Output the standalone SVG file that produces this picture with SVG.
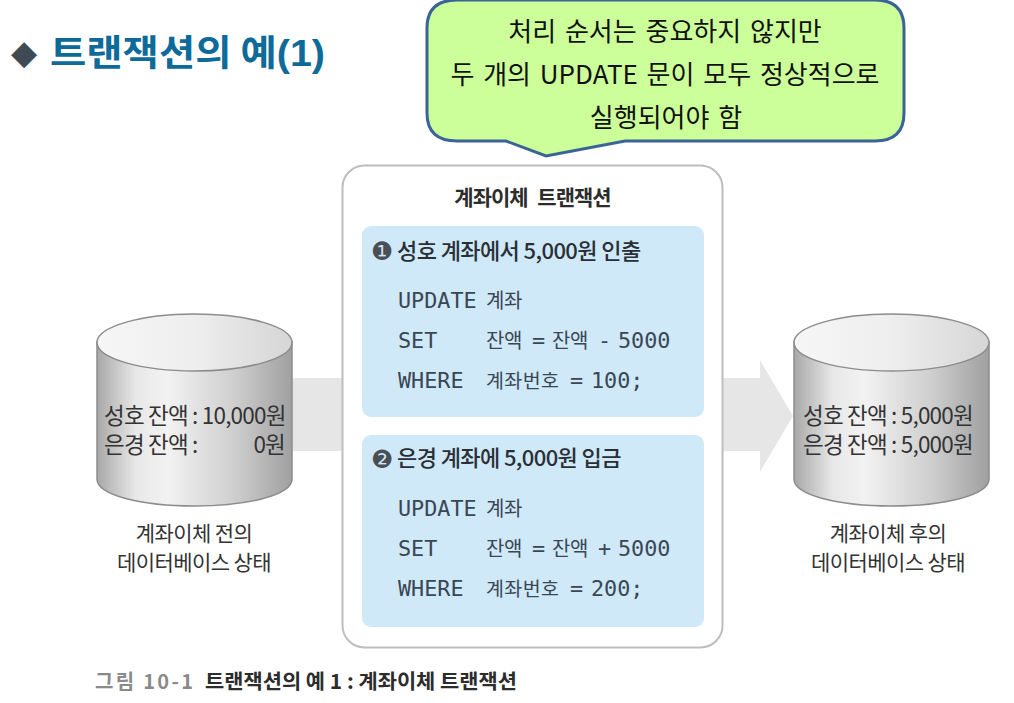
<svg xmlns="http://www.w3.org/2000/svg" width="1014" height="703" viewBox="0 0 1014 703">
<style>
text{font-family:"Noto Sans CJK KR","Liberation Sans",sans-serif;fill:#2c2c2c}
.call{font-size:26px;fill:#111;text-anchor:middle;word-spacing:3px}
.db{font-size:22.500px;letter-spacing:-.8px;fill:#333}
.lab{font-size:21px;letter-spacing:-.6px;text-anchor:middle;fill:#333}
.head{font-size:22px;font-weight:500;letter-spacing:-.6px;fill:#2a2f35}
.mono{font-family:"DejaVu Sans Mono","Liberation Mono",monospace;font-size:21.800px;fill:#3a4654}
.ko{font-size:20px;fill:#3a4654;letter-spacing:-.4px}
.ko4{font-size:20px;fill:#3a4654;letter-spacing:-.1px;font-size:19.500px;letter-spacing:.4px}
.num{font-family:"DejaVu Sans",sans-serif;font-size:25px;fill:#4a4f55}
.body{stroke:#8c8c8c;stroke-width:1.5;fill:url(#cyl)}
.top{stroke:#8c8c8c;stroke-width:1.5;fill:url(#lid)}
.blue{fill:#cfe9f9}
</style>
<defs>
<linearGradient id="cyl" x1="0" x2="1" y1="0" y2="0">
<stop offset="0" stop-color="#a8a8a8"/><stop offset=".2" stop-color="#e8e8e8"/><stop offset=".36" stop-color="#f2f2f2"/><stop offset=".7" stop-color="#cfcfcf"/><stop offset="1" stop-color="#a0a0a0"/>
</linearGradient>
<linearGradient id="lid" x1="0" x2="1" y1="0" y2="0">
<stop offset="0" stop-color="#f6f6f6"/><stop offset=".5" stop-color="#eeeeee"/><stop offset="1" stop-color="#d6d6d6"/>
</linearGradient>
</defs>
<rect width="1014" height="703" fill="#fff"/>
<g id="title">
<text x="11" y="64" font-size="34" style="font-family:'DejaVu Sans',sans-serif;fill:#3f4a55">◆</text>
<text x="50" y="66" font-size="36" font-weight="700" style="fill:#0e6a99" textLength="275" lengthAdjust="spacingAndGlyphs">트랜잭션의 예<tspan style="font-family:'Liberation Sans',sans-serif">(1)</tspan></text>
</g>
<g id="connectors">
<rect x="285" y="378" width="60" height="73" fill="#e6e6e6"/>
<path d="M720 378H760V360L793 416L760 472V451H720Z" fill="#e6e6e6"/>
</g>
<g id="db-before">
<path class="body" d="M97 342V479C97 495 141 506 194.500 506C248 506 292 495 292 479V342Z"/>
<ellipse class="top" cx="194.500" cy="342.500" rx="97.500" ry="28.500"/>
<text class="db" x="104" y="424">성호 잔액 : 10,000원</text>
<text class="db" x="104" y="453">은경 잔액 :</text>
<text class="db" x="285" y="453" text-anchor="end">0원</text>
<text class="lab" x="194" y="541">계좌이체 전의</text>
<text class="lab" x="194" y="570">데이터베이스 상태</text>
</g>
<g id="transaction">
<rect x="342.500" y="165.500" width="380" height="482" rx="22" fill="#fff" stroke="#bdbdbd" stroke-width="2"/>
<text x="532.500" y="205" text-anchor="middle" font-size="21" font-weight="700" letter-spacing="-1" word-spacing="6">계좌이체 트랜잭션</text>
</g>
<g id="step-1">
<rect class="blue" x="362" y="226" width="342" height="191" rx="9"/>
<text class="num" x="371" y="260">❶</text>
<text class="head" x="397" y="259">성호 계좌에서 5,000원 인출</text>
<text class="mono" x="398" y="308">UPDATE</text><text class="ko" x="486" y="308">계좌</text>
<text class="mono" x="398" y="348">SET</text><text class="ko" x="486" y="348">잔액</text><text class="mono" x="532" y="348">=</text><text class="ko" x="552" y="348">잔액</text><text class="mono" x="598" y="348">-</text><text class="mono" x="618" y="348">5000</text>
<text class="mono" x="398" y="388">WHERE</text><text class="ko4" x="486" y="388">계좌번호</text><text class="mono" x="570" y="388">=</text><text class="mono" x="591" y="388">100;</text>
</g>
<g id="step-2">
<rect class="blue" x="362" y="435" width="342" height="192" rx="9"/>
<text class="num" x="371" y="468">❷</text>
<text class="head" x="397" y="466">은경 계좌에 5,000원 입금</text>
<text class="mono" x="398" y="516">UPDATE</text><text class="ko" x="486" y="516">계좌</text>
<text class="mono" x="398" y="556">SET</text><text class="ko" x="486" y="556">잔액</text><text class="mono" x="532" y="556">=</text><text class="ko" x="552" y="556">잔액</text><text class="mono" x="598" y="556">+</text><text class="mono" x="618" y="556">5000</text>
<text class="mono" x="398" y="596">WHERE</text><text class="ko4" x="486" y="596">계좌번호</text><text class="mono" x="570" y="596">=</text><text class="mono" x="591" y="596">200;</text>
</g>
<g id="db-after">
<path class="body" d="M794 342V479C794 495 838 506 891.500 506C945 506 989 495 989 479V342Z"/>
<ellipse class="top" cx="891.500" cy="342.500" rx="97.500" ry="28.500"/>
<text class="db" x="803" y="424">성호 잔액 : 5,000원</text>
<text class="db" x="803" y="453">은경 잔액 : 5,000원</text>
<text class="lab" x="888" y="541">계좌이체 후의</text>
<text class="lab" x="888" y="570">데이터베이스 상태</text>
</g>
<g id="callout">
<path d="M457 0H875Q904 0 904 28V113Q904 141 875 141H625L546 156L506 141H457Q427 141 427 113V28Q427 0 457 0Z" fill="#ccff99" stroke="#3a6397" stroke-width="3"/>
<text class="call" x="665" y="41">처리 순서는 중요하지 않지만</text>
<text class="call" x="665" y="84">두 개의 UPDATE 문이 모두 정상적으로</text>
<text class="call" x="666" y="127">실행되어야 함</text>
</g>
<g id="caption">
<text x="95" y="689" font-size="20" font-weight="700" style="fill:#8a8a8a" textLength="98">그림 10-1</text>
<text x="205" y="689" font-size="20" font-weight="700" textLength="312" lengthAdjust="spacingAndGlyphs">트랜잭션의 예 1 : 계좌이체 트랜잭션</text>
</g>
</svg>
